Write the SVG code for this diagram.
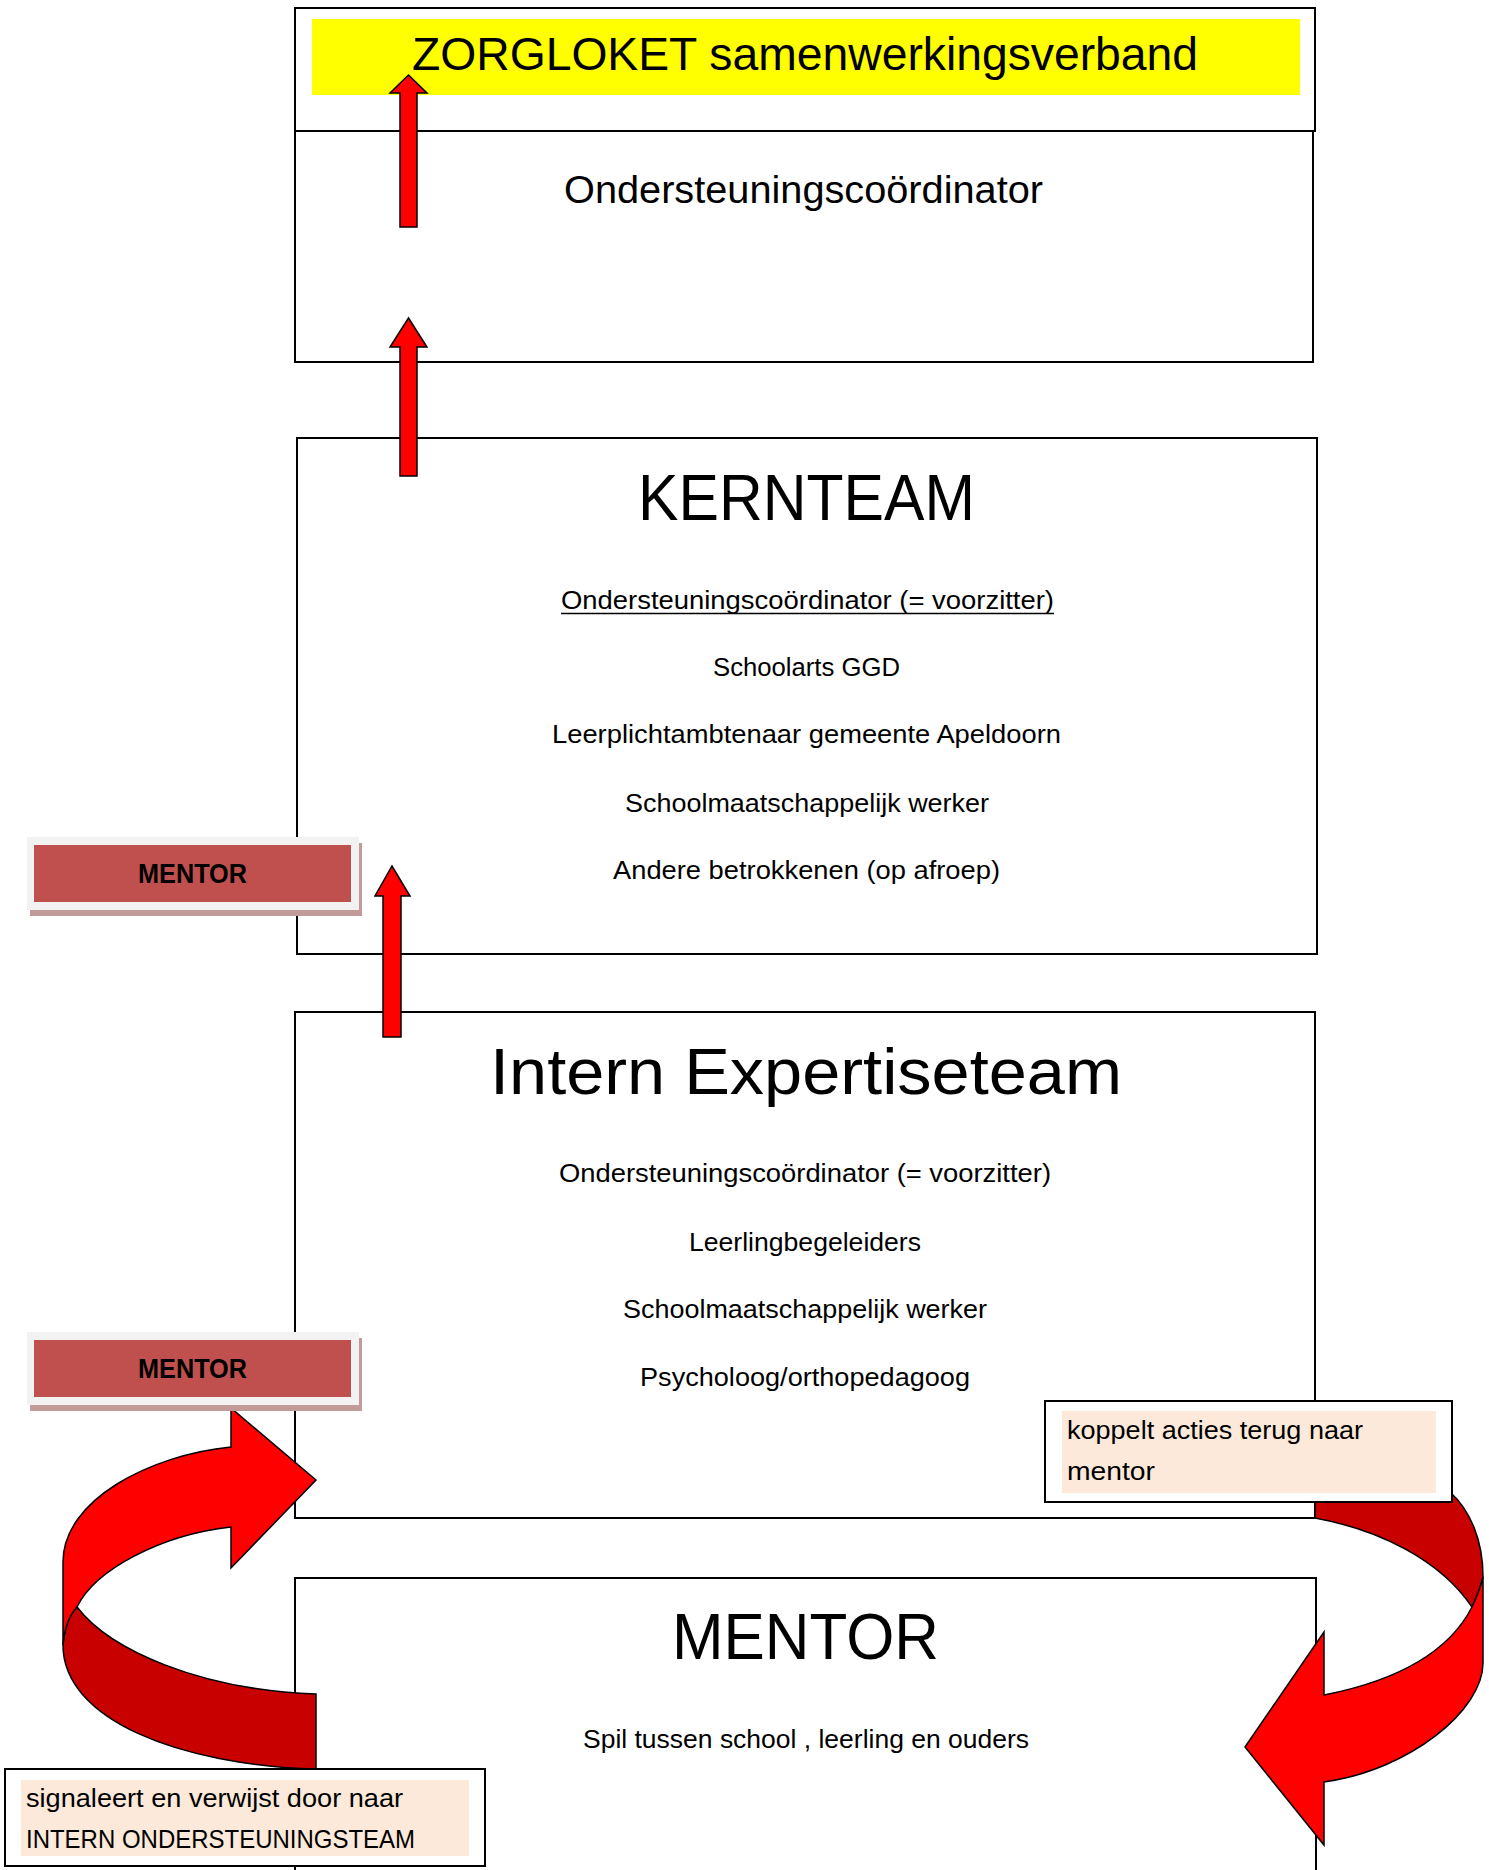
<svg xmlns="http://www.w3.org/2000/svg" width="1489" height="1870" viewBox="0 0 1489 1870">
<style>
.box{fill:#fff;stroke:#000;stroke-width:2}
.t{font-family:"Liberation Sans",Arial,sans-serif;fill:#000}
.arr{fill:#ff0000;stroke:#000;stroke-width:1.5;stroke-linejoin:miter}
.dark{fill:#c80000;stroke:#000;stroke-width:1.5}
.btnO{fill:#f2f2f2}
.btnS{fill:#c29a9a}
.btnI{fill:#c0504d}
.peach{fill:#fde9d9}
</style>
<rect width="1489" height="1870" fill="#fff"/>
<g id="zorgloket">
<rect class="box" x="295" y="8" width="1020" height="123"/>
<rect x="312" y="19" width="988" height="76" fill="#ffff00"/>
<text class="t" x="412" y="70" font-size="46" textLength="786" lengthAdjust="spacingAndGlyphs">ZORGLOKET samenwerkingsverband</text>
</g>
<g id="ondersteuningscoordinator">
<rect class="box" x="295" y="131" width="1018" height="231"/>
<text class="t" x="564" y="203" font-size="38" textLength="479" lengthAdjust="spacingAndGlyphs">Ondersteuningscoördinator</text>
</g>
<g id="kernteam">
<rect class="box" x="297" y="438" width="1020" height="516"/>
<text class="t" x="638" y="520" font-size="64" textLength="337" lengthAdjust="spacingAndGlyphs">KERNTEAM</text>
<text class="t" x="561" y="609" font-size="26" textLength="493" lengthAdjust="spacingAndGlyphs">Ondersteuningscoördinator (= voorzitter)</text>
<line x1="561" y1="613.5" x2="1054" y2="613.5" stroke="#000" stroke-width="1.6"/>
<text class="t" x="713" y="676" font-size="26" textLength="187" lengthAdjust="spacingAndGlyphs">Schoolarts GGD</text>
<text class="t" x="552" y="743" font-size="26" textLength="509" lengthAdjust="spacingAndGlyphs">Leerplichtambtenaar gemeente Apeldoorn</text>
<text class="t" x="625" y="812" font-size="26" textLength="364" lengthAdjust="spacingAndGlyphs">Schoolmaatschappelijk werker</text>
<text class="t" x="613" y="879" font-size="26" textLength="387" lengthAdjust="spacingAndGlyphs">Andere betrokkenen (op afroep)</text>
</g>
<g id="intern-expertiseteam">
<rect class="box" x="295" y="1012" width="1020" height="506"/>
<text class="t" x="490" y="1094" font-size="65" textLength="632" lengthAdjust="spacingAndGlyphs">Intern Expertiseteam</text>
<text class="t" x="559" y="1182" font-size="26" textLength="492" lengthAdjust="spacingAndGlyphs">Ondersteuningscoördinator (= voorzitter)</text>
<text class="t" x="689" y="1251" font-size="26" textLength="232" lengthAdjust="spacingAndGlyphs">Leerlingbegeleiders</text>
<text class="t" x="623" y="1318" font-size="26" textLength="364" lengthAdjust="spacingAndGlyphs">Schoolmaatschappelijk werker</text>
<text class="t" x="640" y="1386" font-size="26" textLength="330" lengthAdjust="spacingAndGlyphs">Psycholoog/orthopedagoog</text>
</g>
<g id="mentor">
<rect class="box" x="295" y="1578" width="1021" height="320"/>
<text class="t" x="672" y="1659" font-size="64" textLength="267" lengthAdjust="spacingAndGlyphs">MENTOR</text>
<text class="t" x="583" y="1748" font-size="26" textLength="446" lengthAdjust="spacingAndGlyphs">Spil tussen school , leerling en ouders</text>
</g>
<g id="connectors">
<polygon class="arr" points="400,227 400,93 390,93 408.5,75 427,93 417,93 417,227"/>
<polygon class="arr" points="400,476 400,347 390,347 408.5,318 427,347 417,347 417,476"/>
<polygon class="arr" points="383,1037 383,896 375,896 392,866 410,896 401,896 401,1037"/>
<path class="dark" d="M 63,1645 C 63,1720 180,1765 316,1769 L 316,1694 C 200,1690 110,1650 77,1607 Q 65,1620 63,1645 Z"/>
<path class="arr" d="M 316,1480 L 231,1408 L 231,1447 C 150,1455 63,1500 63,1562 L 63,1645 Q 65,1620 77,1607 C 95,1570 160,1535 231,1527 L 231,1568 Z"/>
<path class="dark" d="M 1315,1492 L 1315,1518 C 1380,1530 1440,1560 1472,1607 Q 1480,1590 1483,1577 C 1483,1540 1470,1510 1450,1492 Z"/>
<path class="arr" d="M 1245,1747 L 1324,1632 L 1324,1695 C 1400,1680 1450,1650 1472,1607 Q 1480,1590 1483,1577 L 1483,1663 C 1483,1710 1410,1770 1324,1782 L 1324,1845 Z"/>
</g>
<g id="mentor-label-1">
<rect class="btnS" x="30" y="843" width="332" height="73"/>
<rect class="btnO" x="27" y="837" width="332" height="73"/>
<rect class="btnI" x="34" y="845" width="317" height="57"/>
<text class="t" x="138" y="883" font-size="27" font-weight="bold" textLength="109" lengthAdjust="spacingAndGlyphs">MENTOR</text>
</g>
<g id="mentor-label-2">
<rect class="btnS" x="30" y="1338" width="332" height="73"/>
<rect class="btnO" x="27" y="1332" width="332" height="73"/>
<rect class="btnI" x="34" y="1340" width="317" height="57"/>
<text class="t" x="138" y="1378" font-size="27" font-weight="bold" textLength="109" lengthAdjust="spacingAndGlyphs">MENTOR</text>
</g>
<g id="label-koppelt">
<rect class="box" x="1045" y="1401" width="407" height="101"/>
<rect class="peach" x="1062" y="1411" width="374" height="82"/>
<text class="t" x="1067" y="1439" font-size="26" textLength="296" lengthAdjust="spacingAndGlyphs">koppelt acties terug naar</text>
<text class="t" x="1067" y="1480" font-size="26" textLength="88" lengthAdjust="spacingAndGlyphs">mentor</text>
</g>
<g id="label-signaleert">
<rect class="box" x="5" y="1769" width="480" height="97"/>
<rect class="peach" x="21" y="1780" width="448" height="76"/>
<text class="t" x="26" y="1807" font-size="26" textLength="377" lengthAdjust="spacingAndGlyphs">signaleert en verwijst door naar</text>
<text class="t" x="26" y="1848" font-size="26" textLength="389" lengthAdjust="spacingAndGlyphs">INTERN ONDERSTEUNINGSTEAM</text>
</g>
</svg>
